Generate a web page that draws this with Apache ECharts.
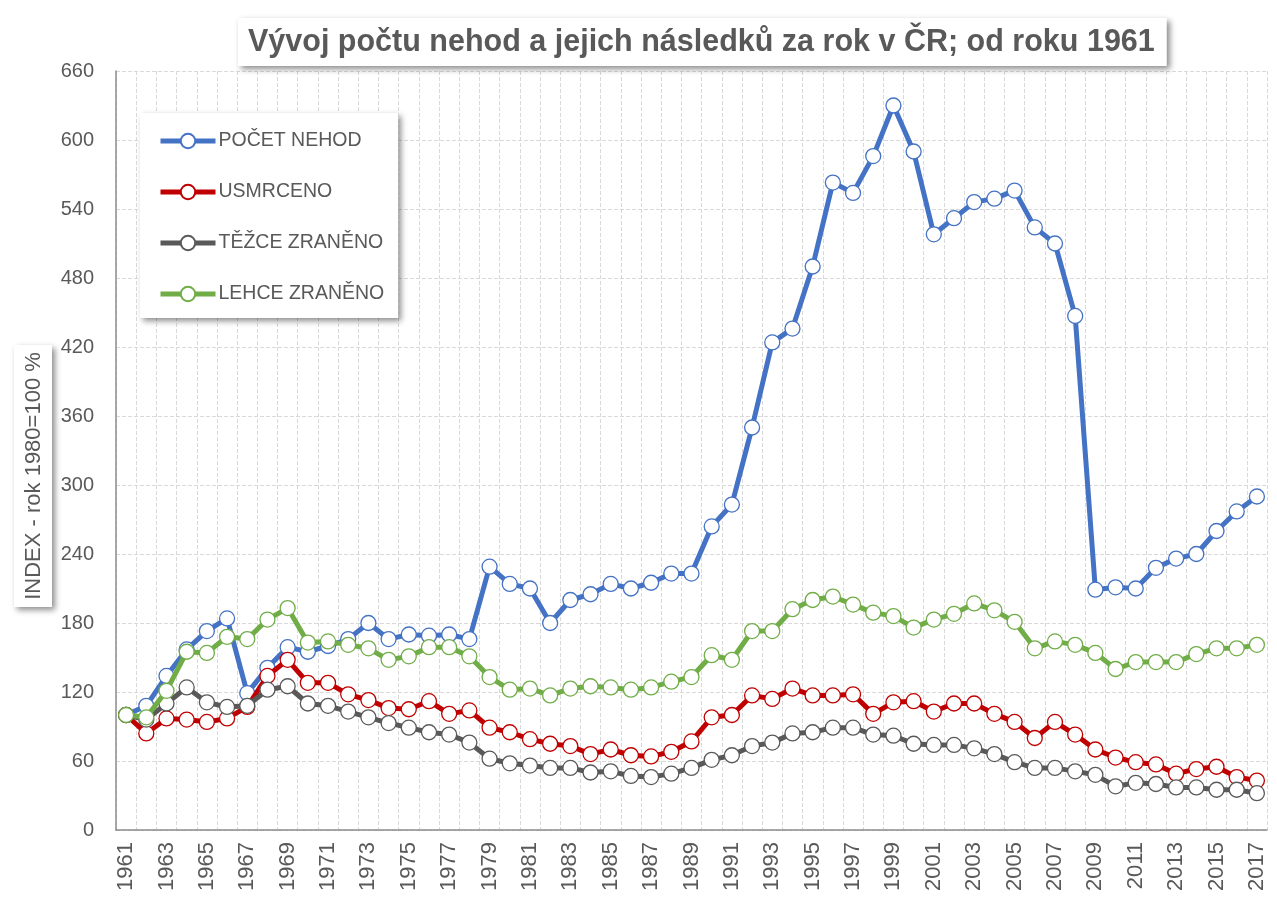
<!DOCTYPE html>
<html>
<head>
<meta charset="utf-8">
<title>Vývoj počtu nehod</title>
<script src="https://cdn.jsdelivr.net/npm/echarts@6/dist/echarts.min.js"></script>
<style>
  html, body { margin: 0; padding: 0; background: #fff; }
  #chart { width: 1277px; height: 902px; }
</style>
</head>
<body>
<div id="chart"></div>
<script>
  // roky na ose x
  var years = ['1961','1962','1963','1964','1965','1966','1967','1968','1969','1970',
    '1971','1972','1973','1974','1975','1976','1977','1978','1979','1980',
    '1981','1982','1983','1984','1985','1986','1987','1988','1989','1990',
    '1991','1992','1993','1994','1995','1996','1997','1998','1999','2000',
    '2001','2002','2003','2004','2005','2006','2007','2008','2009','2010',
    '2011','2012','2013','2014','2015','2016','2017'];

  // index, rok 1980 = 100 %
  var pocetNehod = [100,108,134,157,173,184,119,141,159,155,
    160,166,180,166,170,169,170,166,229,214,
    210,180,200,205,214,210,215,223,223,264,
    283,350,424,436,490,563,554,586,630,590,
    518,532,546,549,556,524,510,447,209,211,
    210,228,236,240,260,277,290];
  var usmrceno = [100,84,97,96,94,97,107,134,148,128,
    128,118,113,106,105,112,101,104,89,85,
    79,75,73,66,70,65,64,68,77,98,
    100,117,114,123,117,117,118,101,111,112,
    103,110,110,101,94,80,94,83,70,63,
    59,57,49,53,55,46,43];
  var tezceZraneno = [100,96,110,124,111,107,108,122,125,110,
    108,103,98,93,89,85,83,76,62,58,
    56,54,54,50,51,47,46,49,54,61,
    65,73,76,84,85,89,89,83,82,75,
    74,74,71,66,59,54,54,51,48,38,
    41,40,37,37,35,35,32];
  var lehceZraneno = [100,98,121,155,154,168,166,183,193,163,
    164,161,158,148,151,159,159,151,133,122,
    123,117,123,125,124,122,124,129,133,152,
    148,173,173,192,200,203,196,189,186,176,
    183,188,197,191,181,158,164,161,154,140,
    146,146,146,153,158,158,161];

  var seriesNames = ['POČET NEHOD', 'USMRCENO', 'TĚŽCE ZRANĚNO', 'LEHCE ZRANĚNO'];
  var seriesColors = ['#4472C4', '#C00000', '#595959', '#70AD47'];
  var seriesData = [pocetNehod, usmrceno, tezceZraneno, lehceZraneno];

  var fontName = "'Liberation Sans', Arial, sans-serif";
  var textColor = '#595959';

  function makeSeries(i) {
    var c = seriesColors[i];
    return {
      name: seriesNames[i],
      type: 'line',
      data: seriesData[i],
      color: c,
      symbol: 'circle',
      symbolSize: 15,
      showAllSymbol: true,
      lineStyle: { color: c, width: 5 },
      itemStyle: { color: '#fff', borderColor: c, borderWidth: 1.3 },
      emphasis: { disabled: true },
      z: 2 + i
    };
  }

  var chart = echarts.init(document.getElementById('chart'));
  chart.setOption({
    animation: false,
    backgroundColor: '#fff',
    title: {
      text: 'Vývoj počtu nehod a jejich následků za rok v ČR; od roku 1961',
      left: 238,
      top: 18,
      padding: [7, 12, 5, 10],
      backgroundColor: '#fff',
      shadowBlur: 6,
      shadowColor: 'rgba(0,0,0,0.45)',
      shadowOffsetX: 3,
      shadowOffsetY: 3,
      textStyle: {
        fontFamily: fontName,
        fontWeight: 'bold',
        fontSize: 30.5,
        lineHeight: 36,
        color: textColor
      }
    },
    legend: {
      orient: 'vertical',
      left: 140,
      top: 113,
      padding: [15, 14, 11, 18],
      itemGap: 25,
      itemWidth: 55,
      itemHeight: 18,
      backgroundColor: '#fff',
      shadowBlur: 6,
      shadowColor: 'rgba(0,0,0,0.45)',
      shadowOffsetX: 3,
      shadowOffsetY: 3,
      selectedMode: false,
      lineStyle: { width: 5 },
      textStyle: {
        fontFamily: fontName,
        fontSize: 19.5,
        lineHeight: 26,
        color: textColor,
        padding: [0, 0, 0, -2]
      },
      data: seriesNames
    },
    grid: {
      left: 116,
      right: 10,
      top: 71,
      bottom: 72
    },
    xAxis: {
      type: 'category',
      data: years,
      boundaryGap: true,
      axisLine: { show: true, lineStyle: { color: '#8c8c8c', width: 1.5 } },
      axisTick: { show: false },
      axisLabel: {
        interval: 1,
        rotate: 90,
        margin: 12,
        fontFamily: fontName,
        fontSize: 22,
        color: textColor
      },
      splitLine: {
        show: true,
        interval: 0,
        lineStyle: { color: '#d9d9d9', type: 'dashed', width: 1 }
      }
    },
    yAxis: {
      type: 'value',
      min: 0,
      max: 660,
      interval: 60,
      axisLine: { show: true, lineStyle: { color: '#8c8c8c', width: 1.5 } },
      axisTick: { show: false },
      axisLabel: {
        margin: 22,
        fontFamily: fontName,
        fontSize: 20,
        color: textColor
      },
      splitLine: {
        show: true,
        lineStyle: { color: '#d9d9d9', type: 'dashed', width: 1 }
      }
    },
    // popisek osy y v rámečku se stínem
    graphic: [{
      type: 'group',
      x: 14,
      y: 345,
      children: [{
        type: 'rect',
        shape: { x: 0, y: 0, width: 38, height: 262 },
        style: {
          fill: '#fff',
          shadowBlur: 6,
          shadowColor: 'rgba(0,0,0,0.45)',
          shadowOffsetX: 3,
          shadowOffsetY: 3
        }
      }, {
        type: 'text',
        x: 20,
        y: 131,
        rotation: Math.PI / 2,
        style: {
          text: 'INDEX - rok 1980=100 %',
          fill: textColor,
          font: '22px ' + fontName,
          align: 'center',
          verticalAlign: 'middle'
        }
      }]
    }],
    series: [0, 1, 2, 3].map(makeSeries)
  });
</script>
</body>
</html>
